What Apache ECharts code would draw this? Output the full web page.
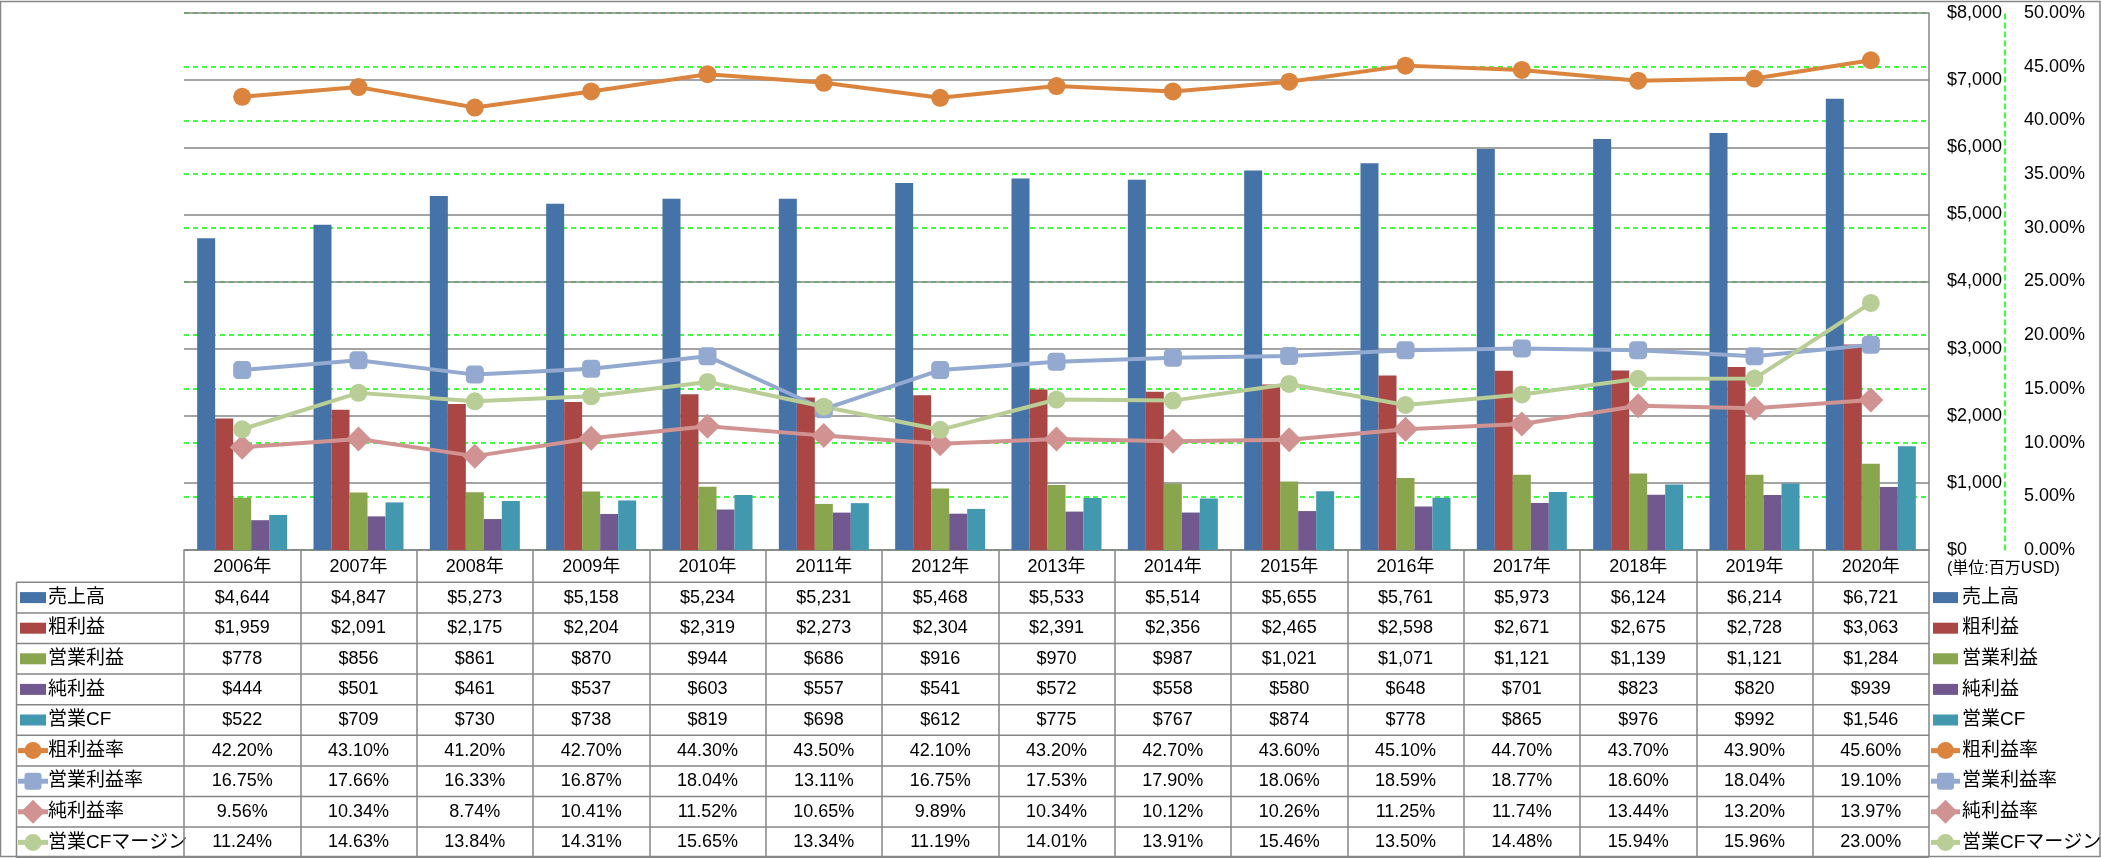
<!DOCTYPE html>
<html><head><meta charset="utf-8">
<script src="https://cdn.jsdelivr.net/npm/echarts@6/dist/echarts.min.js"></script>
<style>html,body{margin:0;padding:0;background:#fff;overflow:hidden}#c{width:2101px;height:858px}</style>
</head><body><div id="c"></div>
<script>
// ---- data ----
const years = ['2006年','2007年','2008年','2009年','2010年','2011年','2012年','2013年','2014年','2015年','2016年','2017年','2018年','2019年','2020年'];
const sales = [4644,4847,5273,5158,5234,5231,5468,5533,5514,5655,5761,5973,6124,6214,6721];
const grossProfit = [1959,2091,2175,2204,2319,2273,2304,2391,2356,2465,2598,2671,2675,2728,3063];
const opIncome = [778,856,861,870,944,686,916,970,987,1021,1071,1121,1139,1121,1284];
const netIncome = [444,501,461,537,603,557,541,572,558,580,648,701,823,820,939];
const opCF = [522,709,730,738,819,698,612,775,767,874,778,865,976,992,1546];
const grossMargin = [42.20,43.10,41.20,42.70,44.30,43.50,42.10,43.20,42.70,43.60,45.10,44.70,43.70,43.90,45.60];
const opMargin = [16.75,17.66,16.33,16.87,18.04,13.11,16.75,17.53,17.90,18.06,18.59,18.77,18.60,18.04,19.10];
const netMargin = [9.56,10.34,8.74,10.41,11.52,10.65,9.89,10.34,10.12,10.26,11.25,11.74,13.44,13.20,13.97];
const cfMargin = [11.24,14.63,13.84,14.31,15.65,13.34,11.19,14.01,13.91,15.46,13.50,14.48,15.94,15.96,23.00];
const unitLabel = '(単位:百万USD)';

// ---- styling ----
const FONT = "'Liberation Sans','Noto Sans CJK JP',sans-serif";
const GRAY = '#868686';
const GREEN = '#00ff00';
const G = {left: 184, right: 2101-1929, top: 13, bottom: 858-550};
const fmtUSD = v => '$' + v.toLocaleString('en-US');
const fmtPct = v => v.toFixed(2) + '%';

const rows = [
  {name:'売上高', data:sales, kind:'bar', color:'#4572A7', fmt:fmtUSD},
  {name:'粗利益', data:grossProfit, kind:'bar', color:'#AA4643', fmt:fmtUSD},
  {name:'営業利益', data:opIncome, kind:'bar', color:'#89A54E', fmt:fmtUSD},
  {name:'純利益', data:netIncome, kind:'bar', color:'#71588F', fmt:fmtUSD},
  {name:'営業CF', data:opCF, kind:'bar', color:'#4198AF', fmt:fmtUSD},
  {name:'粗利益率', data:grossMargin, kind:'line', color:'#DB843D', symbol:'circle', size:18, fmt:fmtPct},
  {name:'営業利益率', data:opMargin, kind:'line', color:'#93A9D0', symbol:'roundRect', size:18, fmt:fmtPct},
  {name:'純利益率', data:netMargin, kind:'line', color:'#D19392', symbol:'diamond', size:25, fmt:fmtPct},
  {name:'営業CFマージン', data:cfMargin, kind:'line', color:'#B9CD96', symbol:'circle', size:18, fmt:fmtPct}
];

const series = rows.map(r => r.kind === 'bar' ? {
  name: r.name, type: 'bar', yAxisIndex: 1, data: r.data, barWidth: 18, barGap: '0%',
  itemStyle: {color: r.color}, z: 2, animation: false
} : {
  name: r.name, type: 'line', yAxisIndex: 0, data: r.data, symbol: r.symbol, symbolSize: r.size,
  lineStyle: {color: r.color, width: 4}, itemStyle: {color: r.color}, z: 3, animation: false
});

const chart = echarts.init(document.getElementById('c'), null, {renderer: 'canvas'});
chart.setOption({
  backgroundColor: '#fff',
  animation: false,
  textStyle: {fontFamily: FONT},
  grid: {left: G.left, right: G.right, top: G.top, bottom: G.bottom, containLabel: false},
  xAxis: {
    type: 'category', data: years, boundaryGap: true,
    axisLine: {show: true, lineStyle: {color: GRAY, width: 1.5}},
    axisTick: {show: true, length: 306, interval: 0, lineStyle: {color: GRAY, width: 1.5}},
    axisLabel: {color: '#000', fontSize: 18, fontFamily: FONT, margin: 8, interval: 0},
    splitLine: {show: false}
  },
  yAxis: [
    {
      type: 'value', position: 'right', offset: 76, min: 0, max: 50, interval: 5,
      axisLine: {show: true, lineStyle: {color: GREEN, type: [5, 4], width: 1.5}},
      axisTick: {show: false},
      axisLabel: {color: '#000', fontSize: 18, fontFamily: FONT, margin: 19, formatter: v => v.toFixed(2) + '%'},
      splitLine: {show: true, lineStyle: {color: GREEN, type: [5, 4], width: 1.5}}
    },
    {
      type: 'value', position: 'right', min: 0, max: 8000, interval: 1000,
      axisLine: {show: true, lineStyle: {color: GRAY, width: 1.5}},
      axisTick: {show: false},
      axisLabel: {color: '#000', fontSize: 18, fontFamily: FONT, margin: 18, formatter: v => fmtUSD(v)},
      splitLine: {show: true, lineStyle: {color: GRAY, width: 1.5}}
    }
  ],
  series: series
});

// ---- data table + legend keys drawn from the same arrays ----
const graphics = [];
const tableTop = 582.3, rowH = 30.6, plotRight = 1929, tableLeft = 16.5;
graphics.push({type:'rect', shape:{x:0.5, y:1.5, width:2099.5, height:855}, style:{fill:null, stroke:GRAY, lineWidth:1.5}, silent:true, z:0});
for (let k = 0; k <= rows.length; k++) {
  const y = tableTop + k * rowH;
  graphics.push({type:'line', shape:{x1:tableLeft, y1:y, x2:plotRight, y2:y}, style:{stroke:GRAY, lineWidth:1.5}, silent:true});
}
graphics.push({type:'line', shape:{x1:tableLeft, y1:tableTop, x2:tableLeft, y2:tableTop + rows.length*rowH}, style:{stroke:GRAY, lineWidth:1.5}, silent:true});

function keyGraphics(r, x0, cy, w) {
  const out = [];
  if (r.kind === 'bar') {
    out.push({type:'rect', shape:{x:x0, y:cy-5.5, width:w, height:11}, style:{fill:r.color}, silent:true});
  } else {
    out.push({type:'line', shape:{x1:x0-2, y1:cy, x2:x0+w+2, y2:cy}, style:{stroke:r.color, lineWidth:5}, silent:true});
    const cx = x0 + w/2;
    if (r.symbol === 'circle') out.push({type:'circle', shape:{cx:cx, cy:cy, r:8.5}, style:{fill:r.color}, silent:true});
    else if (r.symbol === 'roundRect') out.push({type:'rect', shape:{x:cx-8.5, y:cy-8.5, width:17, height:17, r:3}, style:{fill:r.color}, silent:true});
    else out.push({type:'polygon', shape:{points:[[cx,cy-12],[cx+12,cy],[cx,cy+12],[cx-12,cy]]}, style:{fill:r.color}, silent:true});
  }
  return out;
}

rows.forEach((r, i) => {
  const cy = tableTop + i * rowH + rowH / 2;
  keyGraphics(r, 20, cy, 26).forEach(g => graphics.push(g));
  graphics.push({type:'text', x:48, y:cy, style:{text:r.name, fill:'#000', font:"19px " + FONT, textAlign:'left', textVerticalAlign:'middle'}, silent:true});
  keyGraphics(r, 1933, cy, 25).forEach(g => graphics.push(g));
  graphics.push({type:'text', x:1962, y:cy, style:{text:r.name, fill:'#000', font:"19px " + FONT, textAlign:'left', textVerticalAlign:'middle'}, silent:true});
  r.data.forEach((v, j) => {
    const cx = chart.convertToPixel({xAxisIndex: 0}, years[j]);
    graphics.push({type:'text', x:cx, y:cy, style:{text:r.fmt(v), fill:'#000', font:"18px " + FONT, textAlign:'center', textVerticalAlign:'middle'}, silent:true});
  });
});
graphics.push({type:'text', x:1947, y:569, style:{text:unitLabel, fill:'#000', font:"16px " + FONT, textAlign:'left', textVerticalAlign:'middle'}, silent:true});

chart.setOption({graphic: graphics});
</script>
</body></html>
